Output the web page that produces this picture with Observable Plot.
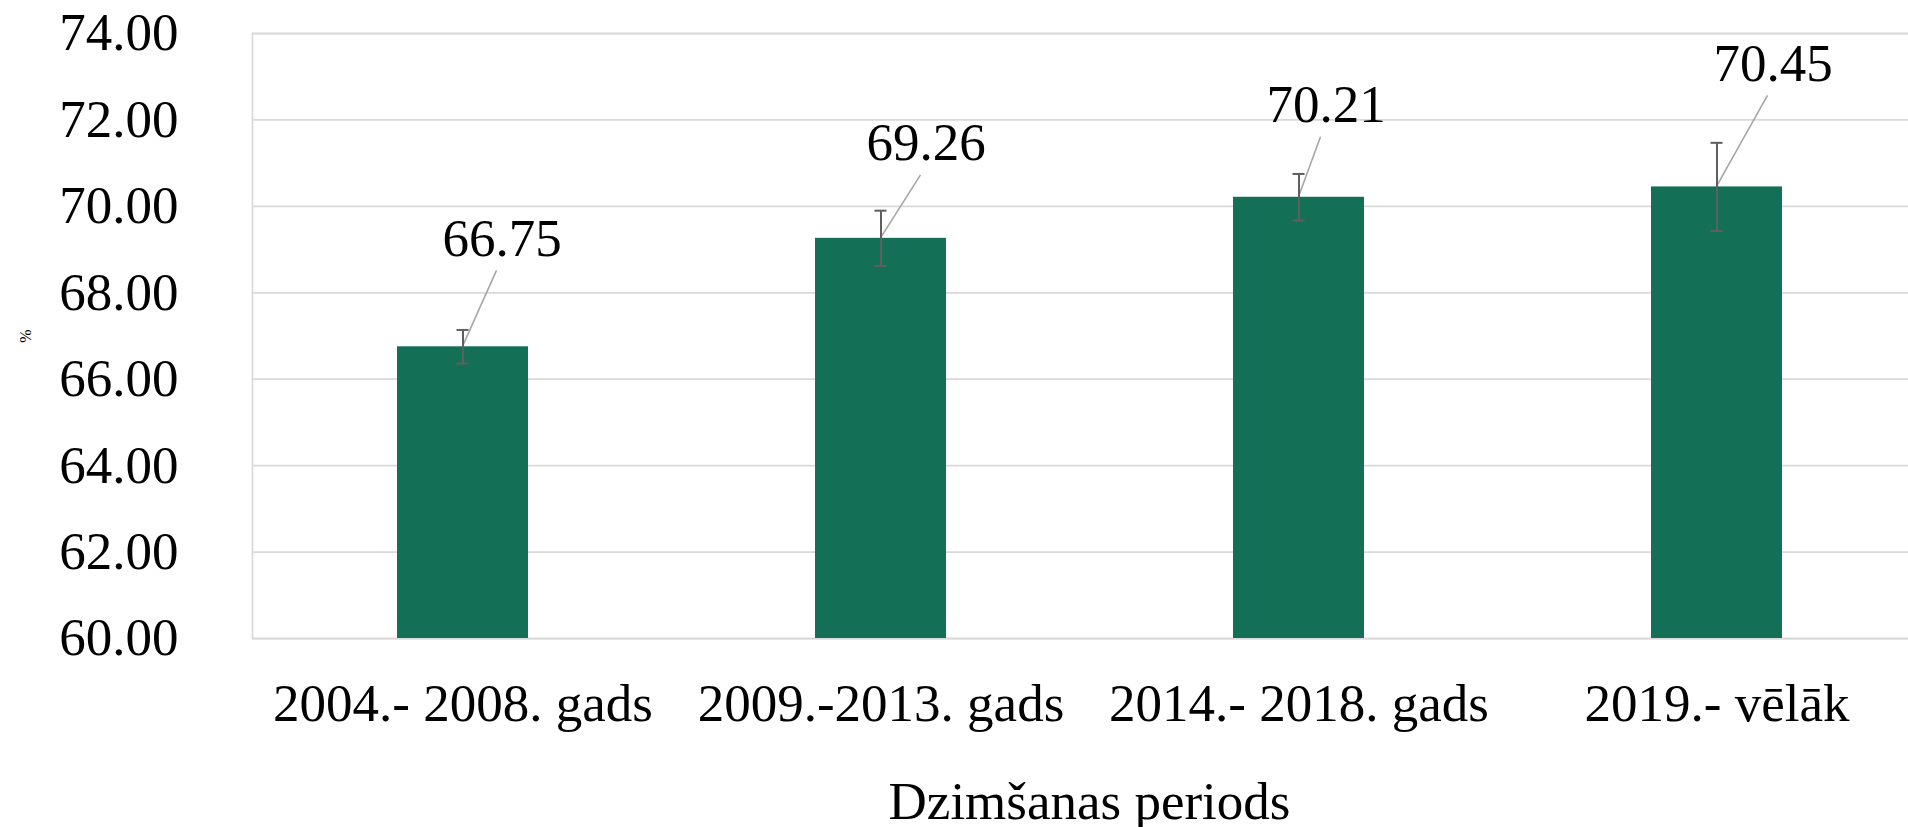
<!DOCTYPE html>
<html><head><meta charset="utf-8">
<script src="https://cdn.jsdelivr.net/npm/d3@7"></script>
<script src="https://cdn.jsdelivr.net/npm/@observablehq/plot@0.6"></script>
<style>html,body{margin:0;padding:0;background:#fff;overflow:hidden;}</style>
</head><body><div id="chart"></div>
<script>
// ---- data ----
const categories = ["2004.- 2008. gads", "2009.-2013. gads", "2014.- 2018. gads", "2019.- vēlāk"];
const values = [66.75, 69.26, 70.21, 70.45];
const errors = [0.39, 0.64, 0.54, 1.02];
const yTicks = [60, 62, 64, 66, 68, 70, 72, 74];
const yLabel = "%";
const xLabel = "Dzimšanas periods";

// ---- styling (label nudges in px, like Excel's dragged data labels) ----
const labelNudges = [[39, -108], [45, -95], [27, -92], [56, -123]];
const barColor = "#137056";
const gridColor = "#d9d9d9";
const errColor = "#5f5f5f";
const leaderColor = "#a6a6a6";
const font = "'Liberation Serif', 'Times New Roman', serif";

const data = categories.map((c, i) => ({
  cat: c, value: values[i], lo: values[i] - errors[i], hi: values[i] + errors[i],
  label: values[i].toFixed(2), nudge: labelNudges[i]
}));

function leaders(index, scales) {
  const g = d3.create("svg:g").attr("stroke", leaderColor).attr("stroke-width", 1.6);
  const bw = scales.x.bandwidth ? scales.x.bandwidth() : 0;
  data.forEach(d => {
    const x0 = scales.x(d.cat) + bw / 2, y0 = scales.y(d.value);
    g.append("line")
      .attr("x1", x0).attr("y1", y0)
      .attr("x2", x0 + d.nudge[0] - 5).attr("y2", y0 + d.nudge[1] + 32);
  });
  return g.node();
}

const chart = Plot.plot({
  width: 1926,
  height: 827,
  marginLeft: 252,
  marginRight: 0,
  marginTop: 33,
  marginBottom: 189,
  style: {fontFamily: font, fontSize: "53px", color: "#000", background: "#fff", maxWidth: "none", overflow: "visible"},
  x: {domain: categories, paddingInner: 0.687, paddingOuter: 0.3435, tickSize: 0, tickPadding: 45, label: null},
  y: {domain: [yTicks[0], yTicks[yTicks.length - 1]], ticks: yTicks, tickFormat: d => d.toFixed(2), tickSize: 0, tickPadding: 74, label: null},
  marks: [
    Plot.ruleY(yTicks, {stroke: gridColor, strokeWidth: 1.75}),
    Plot.frame({stroke: gridColor, strokeWidth: 1.75}),
    Plot.barY(data, {x: "cat", y1: yTicks[0], y2: "value", fill: barColor}),
    leaders,
    Plot.ruleX(data, {x: "cat", y1: "lo", y2: "hi", stroke: errColor, strokeWidth: 2}),
    Plot.tickY(data, {x: "cat", y: "lo", stroke: errColor, strokeWidth: 2, insetLeft: 59.5, insetRight: 59.5}),
    Plot.tickY(data, {x: "cat", y: "hi", stroke: errColor, strokeWidth: 2, insetLeft: 59.5, insetRight: 59.5}),
    ...data.map(d => Plot.text([d], {x: "cat", y: "value", text: "label", dx: d.nudge[0], dy: d.nudge[1], fontSize: 53, fill: "#000", lineAnchor: "middle"})),
    Plot.text([yLabel], {frameAnchor: "left", dx: -227, rotate: -90, fontSize: 16, textAnchor: "middle", fill: "#000"}),
    Plot.text([xLabel], {frameAnchor: "bottom", dy: 164, fontSize: 53, textAnchor: "middle", lineAnchor: "middle", fill: "#000"})
  ]
});
document.getElementById("chart").appendChild(chart);
</script>
</body></html>
